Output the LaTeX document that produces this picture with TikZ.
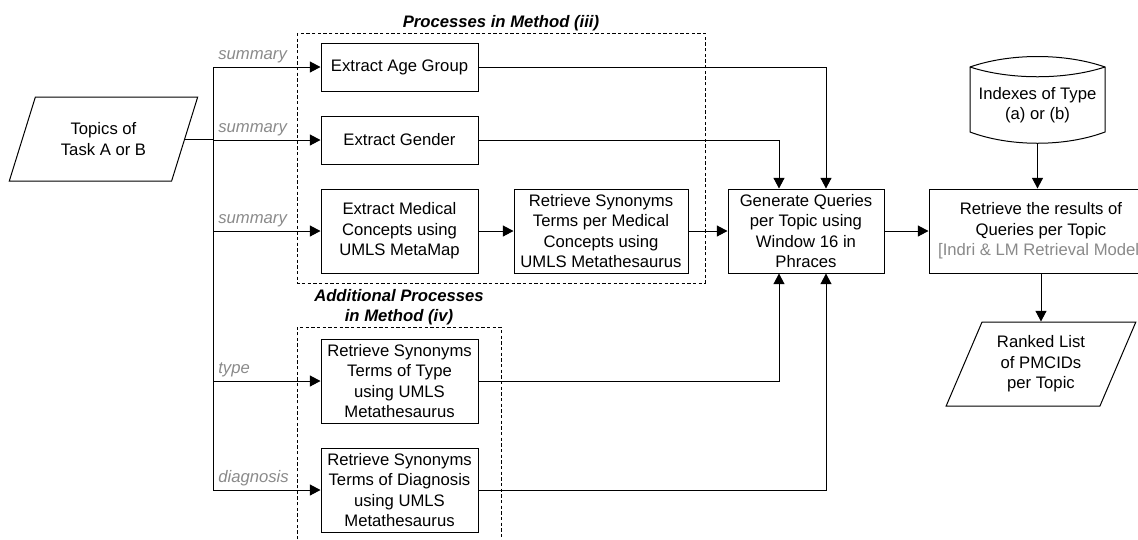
\documentclass[tikz,border=0pt]{standalone}
\usepackage{fontspec}
\setmainfont{Liberation Sans}
\usepackage{tikz}
\usetikzlibrary{arrows.meta,positioning,shapes.geometric,calc}
\definecolor{Ink}{HTML}{000000}
\definecolor{Hint}{HTML}{8A8A8A}
\tikzset{
  proc/.style={
    draw=Ink,line width=0.6pt,fill=white,
    minimum width=94.2pt,minimum height=28.8pt,align=center,inner sep=2pt
  },
  tall/.style={proc,minimum height=50.4pt},
  io/.style={
    trapezium,trapezium stretches=true,draw=Ink,line width=0.6pt,
    minimum height=50.4pt,align=center,inner sep=0pt
  },
  arrow/.style={-{Triangle[length=6.4pt,width=6.6pt]},line width=0.6pt,draw=Ink},
  wire/.style={line width=0.6pt,draw=Ink},
  lbl/.style={font=\fontsize{10}{12}\selectfont\itshape,text=Hint,anchor=base west,inner sep=0pt},
  frame/.style={draw=Ink,line width=0.5pt,dash pattern=on 2pt off 1.4pt},
  grouptitle/.style={font=\fontsize{10}{12}\selectfont\bfseries\itshape,align=center,inner sep=0pt}
}

\begin{document}
\begin{tikzpicture}[x=0.6pt,y=-0.6pt,node distance=14.4pt and 21pt,
  every node/.append style={font=\fontsize{10}{12.2}\selectfont}]
  \useasboundingbox (0,0) rectangle (1138,539);
  \clip (0,0) rectangle (1138,539);

  \node[io,trapezium left angle=63.4,trapezium right angle=116.6,minimum width=113.4pt] (topics) at (103.5,139) {Topics of\\Task A or B};

  \node[proc] (age) at (399.5,67) {Extract Age Group};
  \node[proc,below=of age] (gender) {Extract Gender};
  \node[tall,below=of gender] (med) {Extract Medical\\Concepts using\\UMLS MetaMap};
  \node[tall,minimum width=104.4pt,right=of med] (synmed) {Retrieve Synonyms\\Terms per Medical\\Concepts using\\UMLS Metathesaurus};
  \node[tall,minimum width=93.6pt,right=23.4pt of synmed] (gen) {Generate Queries\\per Topic using\\Window 16 in\\Phraces};
  \node[tall,minimum width=134.4pt,right=26.4pt of gen] (fetch) {Retrieve the results of\\Queries per Topic\\\textcolor{Hint}{[Indri \& LM Retrieval Model]}};
  \node[io,trapezium left angle=64.5,trapezium right angle=115.5,minimum width=114.6pt,below=28.8pt of fetch] (ranked) {Ranked List\\of PMCIDs\\per Topic};

  \node[tall] (typ) at (399.5,381) {Retrieve Synonyms\\Terms of Type\\using UMLS\\Metathesaurus};
  \node[tall,below=of typ] (diag) {Retrieve Synonyms\\Terms of Diagnosis\\using UMLS\\Metathesaurus};

  \node[inner sep=0pt,align=center] (db) at (1037.5,105) {Indexes of Type\\(a) or (b)};
  \draw[wire] (970,67) .. controls (1010,53) and (1065,53) .. (1105,67) -- (1105,132)
    .. controls (1065,147) and (1010,147) .. (970,132) -- cycle;
  \draw[wire] (970,67) .. controls (1010,80) and (1065,80) .. (1105,67);
  \coordinate (dbfoot) at (1037.5,143);

  \draw[frame] (297,33) rectangle (705,283);
  \node[grouptitle] (iii) at (501,23) {Processes in Method (iii)};
  \draw[frame] (297,545) -- (297,327) -- (501,327) -- (501,545);
  \node[grouptitle] (iv) at (399,307) {Additional Processes\\in Method (iv)};

  \coordinate (bus) at (213,67);
  \draw[wire] (topics.east) -- (bus |- topics.east);
  \draw[wire] (bus |- age) -- (bus |- diag);
  \foreach \dst/\txt in {age/summary,gender/summary,med/summary,typ/type,diag/diagnosis}{
    \draw[arrow] (bus |- \dst) -- (\dst.west);
    \node[lbl] (lbl-\dst) at ($(bus |- \dst)+(5,-7.5)$) {\txt};
  }

  \draw[arrow] (med) -- (synmed);
  \draw[arrow] (synmed) -- (gen);
  \draw[arrow] (gen) -- (fetch);
  \draw[arrow] (dbfoot) -- (dbfoot |- fetch.north);
  \draw[arrow] (fetch.south) -- (fetch.south |- ranked.north);
  \draw[arrow] (age) -| ($(gen.north)+(20,0)$);
  \draw[arrow] (gender) -| ($(gen.north)+(-27,0)$);
  \draw[arrow] (typ) -| ($(gen.south)+(-27,0)$);
  \draw[arrow] (diag) -| ($(gen.south)+(20,0)$);
\end{tikzpicture}
\end{document}
